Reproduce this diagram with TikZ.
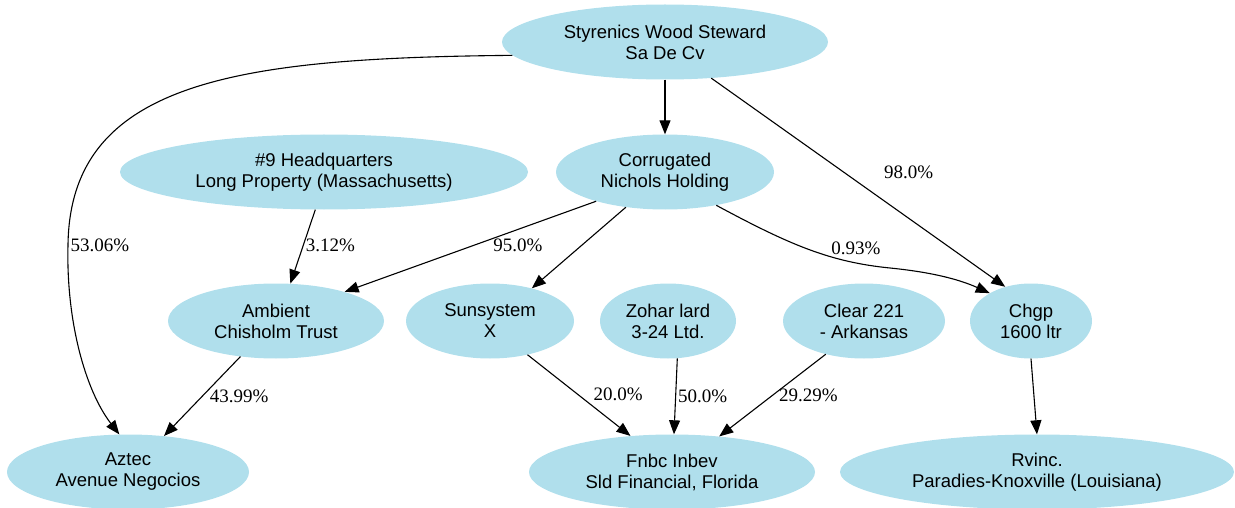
\documentclass[tikz,border=0pt]{standalone}
\usepackage{fontspec}
\setmainfont{Liberation Sans}
\newfontfamily\pctfont{Liberation Serif}
\usetikzlibrary{shapes.geometric}
\usetikzlibrary{arrows.meta}
\definecolor{firmblue}{RGB}{176,223,236}
\tikzset{
  firm/.style={ellipse,fill=firmblue,inner sep=0pt,align=center,
    minimum width=#1,minimum height=75pt,
    font={\fontsize{18.5}{21}\selectfont}},
  link/.style={-{Triangle[length=14pt,width=11pt]},line width=1.1pt},
  pct/.style={inner sep=2pt,font={\pctfont\fontsize{19}{22}\selectfont}}
}

\begin{document}
\begin{tikzpicture}[x=1pt,y=-1pt]
  \useasboundingbox (0,0) rectangle (1235,508);
  \node (sws) [firm=326pt] at (665,42) {Styrenics Wood Steward\\Sa De Cv};
  \node (hq) [firm=408pt] at (324,172) {\#9 Headquarters\\Long Property (Massachusetts)};
  \node (corr) [firm=218pt] at (665,172) {Corrugated\\Nichols Holding};
  \node (amb) [firm=216pt] at (276,321) {Ambient\\Chisholm Trust};
  \node (sun) [firm=168pt] at (490,321) {Sunsystem\\X};
  \node (zoh) [firm=136pt] at (668,321) {Zohar lard\\3-24 Ltd.};
  \node (clr) [firm=162pt] at (864,321) {Clear 221\\- Arkansas};
  \node (chgp) [firm=122pt] at (1031,321) {Chgp\\1600 ltr};
  \node (aztec) [firm=242pt] at (128,472) {Aztec\\Avenue Negocios};
  \node (fnbc) [firm=286pt] at (672,472) {Fnbc Inbev\\Sld Financial, Florida};
  \node (rvinc) [firm=394pt] at (1037,472) {Rvinc.\\Paradies-Knoxville (Louisiana)};

  \draw[link] (sws.185) .. controls (240,58) and (70,80) .. (68,245)
    node[pct,right] (p5306) {53.06\%}
    .. controls (66,320) and (85,390) .. (aztec.103);
  \draw[link] (sws.south) -- (corr.north);
  \draw[link] (sws.-38) -- node[pct,pos=0.45,right=38pt] (p980) {98.0\%} (chgp.127);
  \draw[link] (hq.-103) -- node[pct,pos=0.48,right] (p312) {3.12\%} (amb.69);
  \draw[link] (corr.-157) -- node[pct,pos=0.49,right=18pt] (p950) {95.0\%} (amb.23);
  \draw[link] (corr.-138) -- (sun.38);
  \draw[link] (corr.-33) .. controls (790,245) and (830,262) .. (890,268)
    node[pct,pos=0.8,above=6pt] (p093) {0.93\%}
    .. controls (940,273) and (965,282) .. (chgp.146);
  \draw[link] (amb.-135) -- node[pct,pos=0.5,right=5pt] (p4399) {43.99\%} (aztec.45);
  \draw[link] (sun.-42) -- node[pct,pos=0.49,right=13pt] (p200) {20.0\%} (fnbc.139);
  \draw[link] (zoh.-76) -- node[pct,pos=0.5,right] (p500) {50.0\%} (fnbc.87);
  \draw[link] (clr.-139) -- node[pct,pos=0.5,right=4pt] (p2929) {29.29\%} (fnbc.37);
  \draw[link] (chgp.south) -- (rvinc.north);
\end{tikzpicture}
\end{document}
